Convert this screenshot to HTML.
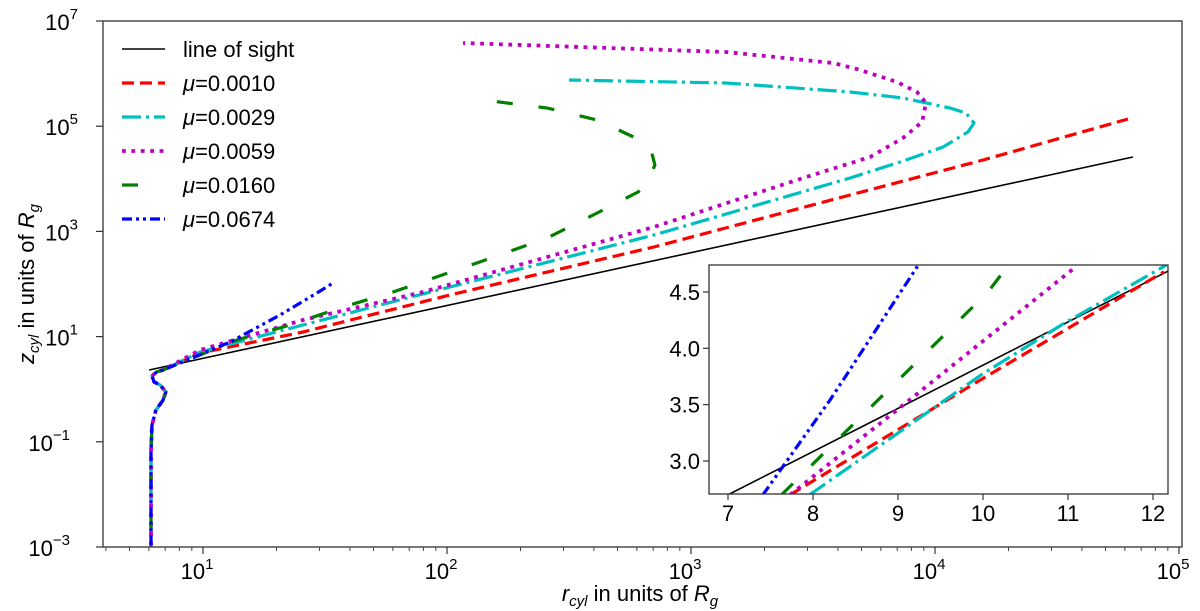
<!DOCTYPE html>
<html><head><meta charset="utf-8"><style>
html,body{margin:0;padding:0;background:#fff;}
svg{display:block;font-family:"Liberation Sans","DejaVu Sans",sans-serif;}
</style></head><body>
<svg id="chart" width="1200" height="611" viewBox="0 0 1200 611" xmlns="http://www.w3.org/2000/svg">
<defs>
<clipPath id="mainClip"><rect x="103" y="21" width="1079" height="526"/></clipPath>
<clipPath id="insetClip"><rect x="709" y="265" width="459" height="229"/></clipPath>
</defs>
<rect x="103" y="21" width="1079" height="526" fill="#fff"/>
<g id="mainLines" clip-path="url(#mainClip)"></g>
<rect x="103" y="21" width="1079" height="526" fill="none" stroke="#333" stroke-width="1.3"/>
<g id="axes"></g>
<text x="640" y="601" font-size="22" text-anchor="middle"><tspan font-style="italic">r</tspan><tspan font-style="italic" font-size="15" dy="5">cyl</tspan><tspan dy="-5"> in units of </tspan><tspan font-style="italic">R</tspan><tspan font-style="italic" font-size="15" dy="5">g</tspan></text>
<text transform="translate(34,284) rotate(-90)" font-size="22" text-anchor="middle"><tspan font-style="italic">z</tspan><tspan font-style="italic" font-size="15" dy="5">cyl</tspan><tspan dy="-5"> in units of </tspan><tspan font-style="italic">R</tspan><tspan font-style="italic" font-size="15" dy="5">g</tspan></text>
<g id="legend"></g>
<rect x="709" y="265" width="459" height="229" fill="#fff"/>
<g id="insetLines" clip-path="url(#insetClip)"></g>
<rect x="709" y="265" width="459" height="229" fill="none" stroke="#333" stroke-width="1.3"/>
<g id="insetAxes"></g>
</svg>
<script>
// log10 values
const sharedLogR = [0.787,0.787,0.787,0.791,0.807,0.836,0.848,0.824,0.799,0.791,0.811,0.836];
const sharedLogZ = [-3.5,-2.11,-1.16,-0.68,-0.40,-0.21,-0.05,0.08,0.14,0.25,0.33,0.365];
const sightLogR = [0.779,4.811];
const sightLogZ = [0.365,4.414];
const redLogR = [0.988,1.410,2.012,2.848,3.652,4.197,4.791];
const redLogZ = [0.688,1.087,1.791,2.703,3.692,4.357,5.137];
const cyanLogR = [0.988,1.410,2.012,2.848,3.652,3.857,4.033,4.135,4.160,4.127,4.061,3.869,3.652,3.143,2.500];
const cyanLogZ = [0.707,1.221,1.943,2.932,4.015,4.319,4.605,4.890,5.061,5.251,5.346,5.536,5.650,5.821,5.878];
const magLogR = [0.988,1.410,1.902,2.848,3.434,3.734,3.869,3.947,3.963,3.926,3.844,3.680,3.582,3.143,2.066];
const magLogZ = [0.745,1.316,1.848,3.084,3.977,4.414,4.776,5.080,5.441,5.650,5.840,6.087,6.202,6.411,6.582];
const greenLogR = [1.139,1.357,1.561,1.779,1.992,2.193,2.410,2.615,2.783,2.820,2.852,2.836,2.791,2.615,2.410,2.148];
const greenLogZ = [0.935,1.221,1.544,1.848,2.190,2.513,2.875,3.350,3.749,3.920,4.262,4.548,4.738,5.118,5.346,5.498];
const blueLogR = [0.877,1.111,1.316,1.467,1.533];
const blueLogZ = [0.441,0.897,1.411,1.829,2.019];
const xTickExp = [1,2,3,4,5];
const yTickExp = [-3,-1,1,3,5,7];
const legendLabels = ["line of sight","\u03bc=0.0010","\u03bc=0.0029","\u03bc=0.0059","\u03bc=0.0160","\u03bc=0.0674"];
// inset data
const insetSightX = [7.0,12.18]; const insetSightY = [2.70,4.686];
const insetRedX = [7.73,9.97,12.13]; const insetRedY = [2.70,3.72,4.68];
const insetCyanX = [7.96,9.97,10.95,12.16]; const insetCyanY = [2.70,3.76,4.22,4.74];
const insetMagX = [7.73,9.0,11.07]; const insetMagY = [2.70,3.46,4.71];
const insetGreenX = [7.63,10.06,10.3]; const insetGreenY = [2.70,4.50,4.74];
const insetBlueX = [7.41,8.20,9.24]; const insetBlueY = [2.70,3.54,4.74];
const insetXTicks = [7,8,9,10,11,12];
const insetYTicks = [3.0,3.5,4.0,4.5];

const NS="http://www.w3.org/2000/svg";
const X = lx => 203 + (lx-1)*244;
const Y = ly => 547 - (ly+3)*52.6;
const IX = v => 728 + (v-7)*85;
const IY = v => 461 - (v-3)*112.7;
function mk(tag, attrs, parent){const e=document.createElementNS(NS,tag);for(const k in attrs)e.setAttribute(k,attrs[k]);parent.appendChild(e);return e;}
const styles = [
 {c:"#000",w:1.6,d:""},
 {c:"#ff0000",w:3.2,d:"12 6"},
 {c:"#00bfbf",w:3.2,d:"19 5 3 5"},
 {c:"#bf00bf",w:3.8,d:"3.8 5.6"},
 {c:"#007f00",w:3.2,d:"16 26"},
 {c:"#0000ff",w:3.2,d:"10 4 3 4 3 4"}
];
const names=["line-of-sight","series-mu-0010","series-mu-0029","series-mu-0059","series-mu-0160","series-mu-0674"];
function path(xs, ys, fx, fy){return xs.map((v,i)=>(i?"L":"M")+fx(v).toFixed(1)+","+fy(ys[i]).toFixed(1)).join(" ");}
const main=document.getElementById("mainLines");
const series=[
 [sightLogR,sightLogZ],
 [sharedLogR.concat(redLogR),sharedLogZ.concat(redLogZ)],
 [sharedLogR.concat(cyanLogR),sharedLogZ.concat(cyanLogZ)],
 [sharedLogR.concat(magLogR),sharedLogZ.concat(magLogZ)],
 [sharedLogR.concat(greenLogR),sharedLogZ.concat(greenLogZ)],
 [sharedLogR.concat(blueLogR),sharedLogZ.concat(blueLogZ)]
];
series.forEach((s,i)=>{
 const p=mk("path",{d:path(s[0],s[1],X,Y),fill:"none",stroke:styles[i].c,"stroke-width":styles[i].w,"stroke-dasharray":styles[i].d,"stroke-linejoin":"round"},main);
 
 
});
const ax=document.getElementById("axes");
xTickExp.forEach(e=>{
 const x=X(e);
 const t=mk("line",{x1:x,x2:x,y1:547,y2:554,stroke:"#333","stroke-width":1.2},ax);
 
 
 const tx=mk("text",{x:x-6,y:579,"font-size":22,"text-anchor":"middle"},ax);
 
 
 tx.innerHTML='10<tspan font-size="15" dy="-10">'+e+'</tspan>';
});
for(let e=0;e<5;e++){for(let m=2;m<10;m++){const lx=e+Math.log10(m);const x=X(lx);if(x<103||x>1182)continue;
 const t=mk("line",{x1:x,x2:x,y1:547,y2:551,stroke:"#333","stroke-width":0.9},ax);
 
 }}
yTickExp.forEach(e=>{
 const y=Y(e);
 const t=mk("line",{x1:96,x2:103,y1:y,y2:y,stroke:"#333","stroke-width":1.2},ax);
 
 
 const tx=mk("text",{x:e<0?70:78,y:y+9,"font-size":22,"text-anchor":"end"},ax);
 
 
 tx.innerHTML='10<tspan font-size="15" dy="-11">'+(e<0?'\u2212'+(-e):e)+'</tspan>';
});
const lg=document.getElementById("legend");
legendLabels.forEach((l,i)=>{
 const y=49+i*34;
 const x2 = i==4?140:165;
 const ln=mk("line",{x1:122,x2:x2,y1:y,y2:y,stroke:styles[i].c,"stroke-width":styles[i].w,"stroke-dasharray":styles[i].d},lg);
 
 
 const t=mk("text",{x:183,y:y+8,"font-size":22},lg);
 
 
 if(i==0)t.textContent=l; else t.innerHTML='<tspan font-style="italic">\u03bc</tspan>'+l.slice(1);
});
const ins=document.getElementById("insetLines");
const iseries=[[insetSightX,insetSightY],[insetRedX,insetRedY],[insetCyanX,insetCyanY],[insetMagX,insetMagY],[insetGreenX,insetGreenY],[insetBlueX,insetBlueY]];
iseries.forEach((s,i)=>{
 const p=mk("path",{d:path(s[0],s[1],IX,IY),fill:"none",stroke:styles[i].c,"stroke-width":styles[i].w,"stroke-dasharray":styles[i].d},ins);
 
 
});
const ia=document.getElementById("insetAxes");
insetXTicks.forEach(v=>{
 const x=IX(v);
 const t=mk("line",{x1:x,x2:x,y1:494,y2:500,stroke:"#333","stroke-width":1.2},ia);
 
 
 const tx=mk("text",{x:x,y:521,"font-size":22,"text-anchor":"middle"},ia);
 
 
 tx.textContent=v;
});
insetYTicks.forEach(v=>{
 const y=IY(v);
 const t=mk("line",{x1:703,x2:709,y1:y,y2:y,stroke:"#333","stroke-width":1.2},ia);
 
 
 const tx=mk("text",{x:700,y:y+8,"font-size":22,"text-anchor":"end"},ia);
 
 
 tx.textContent=v.toFixed(1);
});
</script>
</body></html>
